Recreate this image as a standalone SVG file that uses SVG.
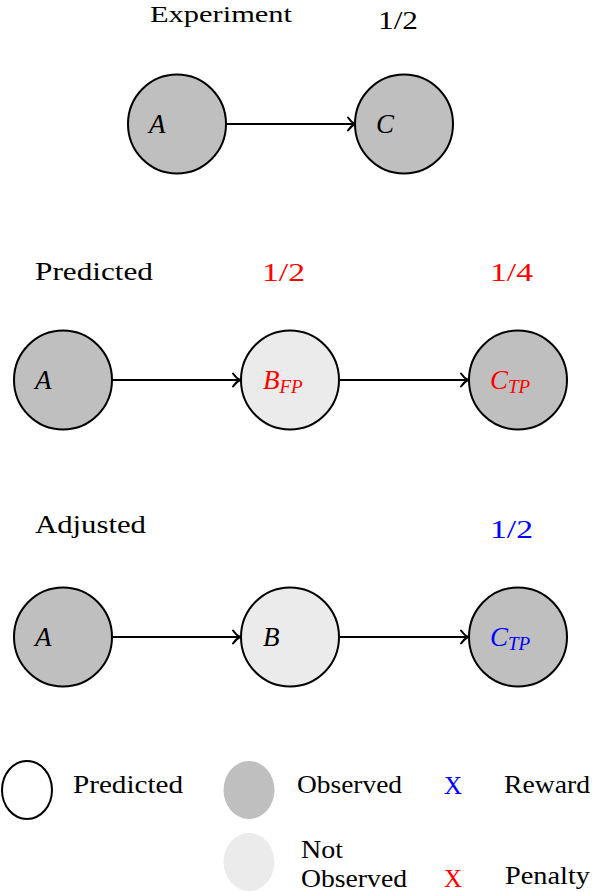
<svg xmlns="http://www.w3.org/2000/svg" width="592" height="892" viewBox="0 0 592 892">
<style>
text{font-family:"Liberation Serif","DejaVu Serif",serif;font-size:25px;fill:#000}
.m{font-style:italic;font-size:27px}
.sub{font-size:19px;font-style:italic}
.obs{fill:#bfbfbf;stroke:#000;stroke-width:2}
.nob{fill:#ebebeb;stroke:#000;stroke-width:2}
.edge{stroke:#000;stroke-width:2;fill:none;marker-end:url(#ar)}
.red{fill:#ff0000}
.blue{fill:#0000ff}
</style>
<defs>
<marker id="ar" markerWidth="12" markerHeight="16" refX="10" refY="8" orient="auto" markerUnits="userSpaceOnUse">
<path d="M3,1.5 Q6,6 10,8 Q6,10 3,14.5" fill="none" stroke="#000" stroke-width="2" stroke-linecap="round"/>
</marker>
</defs>
<g id="labels">
<text x="150" y="22" style="font-size:24px" textLength="142" lengthAdjust="spacingAndGlyphs">Experiment</text>
<text x="378" y="29" textLength="40" lengthAdjust="spacingAndGlyphs">1/2</text>
<text x="35" y="280" textLength="118" lengthAdjust="spacingAndGlyphs">Predicted</text>
<text x="262" y="281" textLength="43" lengthAdjust="spacingAndGlyphs" class="red">1/2</text>
<text x="490" y="281" textLength="43" lengthAdjust="spacingAndGlyphs" class="red">1/4</text>
<text x="35" y="533" textLength="111" lengthAdjust="spacingAndGlyphs">Adjusted</text>
<text x="490" y="538" textLength="43" lengthAdjust="spacingAndGlyphs" class="blue">1/2</text>
</g>
<g id="connectors">
<line class="edge" x1="227" y1="124" x2="355" y2="124"/>
<line class="edge" x1="113" y1="380" x2="240" y2="380"/>
<line class="edge" x1="340" y1="380" x2="468" y2="380"/>
<line class="edge" x1="113" y1="637" x2="240" y2="637"/>
<line class="edge" x1="340" y1="637" x2="468" y2="637"/>
</g>
<g id="exp_A"><ellipse class="obs" cx="177" cy="124" rx="49" ry="49.5"/><text class="m" x="149" y="133">A</text></g>
<g id="exp_C"><ellipse class="obs" cx="404" cy="124" rx="49" ry="49.5"/><text class="m" x="376" y="133">C</text></g>
<g id="pred_A"><ellipse class="obs" cx="63" cy="380" rx="49" ry="49.5"/><text class="m" x="35" y="389">A</text></g>
<g id="pred_B"><ellipse class="nob" cx="290" cy="380" rx="49" ry="49.5"/><text class="m red" x="263" y="389">B<tspan class="sub" dy="4">FP</tspan></text></g>
<g id="pred_C"><ellipse class="obs" cx="518" cy="380" rx="49" ry="49.5"/><text class="m red" x="490" y="389">C<tspan class="sub" dy="4">TP</tspan></text></g>
<g id="adj_A"><ellipse class="obs" cx="63" cy="637" rx="49" ry="49.5"/><text class="m" x="35" y="646">A</text></g>
<g id="adj_B"><ellipse class="nob" cx="290" cy="637" rx="49" ry="49.5"/><text class="m" x="263" y="646">B</text></g>
<g id="adj_C"><ellipse class="obs" cx="518" cy="637" rx="49" ry="49.5"/><text class="m blue" x="490" y="646">C<tspan class="sub" dy="4">TP</tspan></text></g>
<g id="legend">
<ellipse cx="27" cy="790" rx="25" ry="29" fill="#fff" stroke="#000" stroke-width="2"/>
<text x="73" y="793" textLength="110" lengthAdjust="spacingAndGlyphs">Predicted</text>
<ellipse cx="249" cy="790" rx="25.5" ry="29" fill="#bfbfbf"/>
<text x="297" y="793" textLength="105" lengthAdjust="spacingAndGlyphs">Observed</text>
<text x="444" y="794" class="blue">X</text>
<text x="504" y="793" textLength="86" lengthAdjust="spacingAndGlyphs">Reward</text>
<ellipse cx="249" cy="862" rx="25.5" ry="29" fill="#ebebeb"/>
<text x="301" y="858" textLength="42" lengthAdjust="spacingAndGlyphs">Not</text>
<text x="301" y="887" textLength="106" lengthAdjust="spacingAndGlyphs">Observed</text>
<text x="444" y="887" class="red">X</text>
<text x="505" y="884" textLength="85" lengthAdjust="spacingAndGlyphs">Penalty</text>
</g>
</svg>
